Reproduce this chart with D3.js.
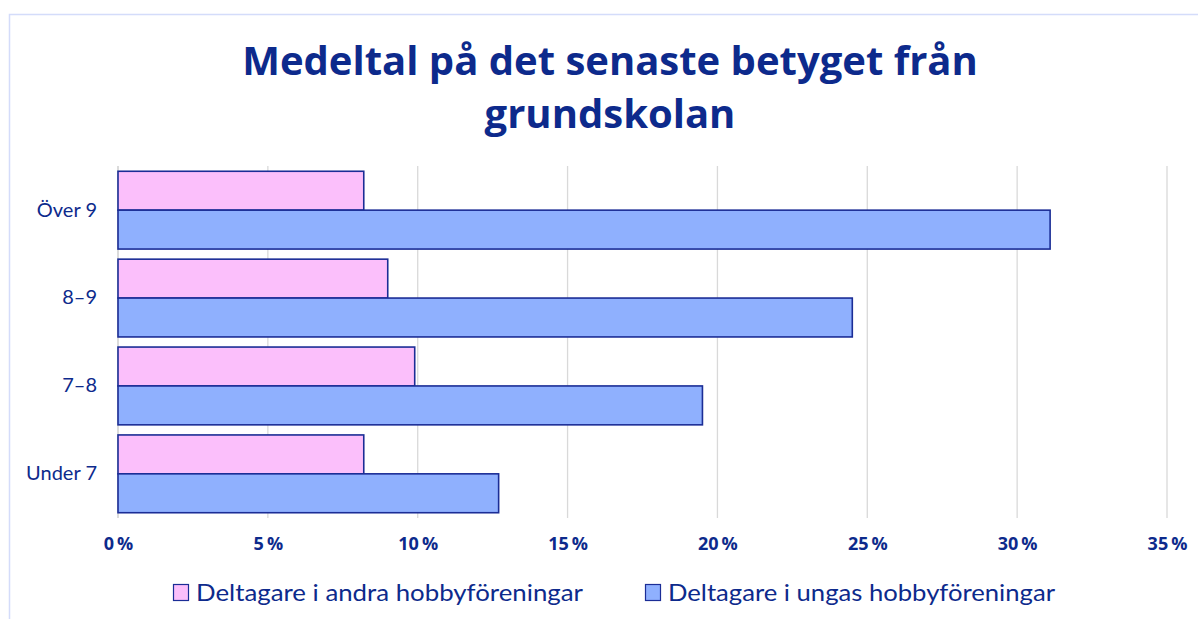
<!DOCTYPE html>
<html>
<head>
<meta charset="utf-8">
<script src="https://cdn.jsdelivr.net/npm/d3@7"></script>
<style>
  body { margin: 0; background: #fff; }
  svg { display: block; }
</style>
</head>
<body>
<svg id="drawing_region"></svg>
<script>
const categories = ['Över 9', '8–9', '7–8', 'Under 7'];
const seriesNames = ['Deltagare i andra hobbyföreningar', 'Deltagare i ungas hobbyföreningar'];
const andraValues = [8.2, 9.0, 9.9, 8.2];
const ungasValues = [31.1, 24.5, 19.5, 12.7];
const xTicks = [0, 5, 10, 15, 20, 25, 30, 35];
const titleLines = ['Medeltal på det senaste betyget från', 'grundskolan'];

const colors = ['#fbbffb', '#8fb0fe'];
const strokeColor = '#1b2d96';
const textColor = '#0d2a8c';

const width = 1198, height = 619;
const margin = {top: 166, left: 118};
const plotW = 1049, plotH = 352;

const svg = d3.select('#drawing_region')
    .attr('width', width)
    .attr('height', height);

// chart frame
svg.append('rect')
    .attr('x', 9.5).attr('y', 14.5)
    .attr('width', width).attr('height', height)
    .attr('fill', 'none')
    .attr('stroke', '#d4dcfa')
    .attr('stroke-width', 1.5);

const title = svg.append('text')
    .attr('text-anchor', 'middle')
    .attr('font-family', '"Open Sans", sans-serif')
    .attr('font-weight', 'bold')
    .attr('font-size', '40px')
    .attr('fill', textColor);
title.selectAll('tspan')
    .data(titleLines)
    .join('tspan')
    .attr('x', 610)
    .attr('y', (d, i) => 75 + i * 53)
    .text(d => d);

const chart = svg.append('g')
    .attr('transform', `translate(${margin.left}, ${margin.top})`);

const xscale = d3.scaleLinear()
    .domain([0, 35])
    .range([0, plotW]);

const yscale = d3.scaleBand()
    .domain(categories)
    .range([0, plotH])
    .paddingInner(0.115)
    .paddingOuter(0.06);

const sub = d3.scaleBand()
    .domain([0, 1])
    .range([0, yscale.bandwidth()]);

// gridlines
chart.append('g')
    .selectAll('line')
    .data(xTicks)
    .join('line')
    .attr('x1', d => xscale(d)).attr('x2', d => xscale(d))
    .attr('y1', 0).attr('y2', plotH)
    .attr('stroke', d => d === 0 ? '#c8c8c8' : '#d9d9d9')
    .attr('stroke-width', 1.3);

const xaxis = d3.axisBottom(xscale)
    .tickValues(xTicks)
    .tickFormat(d => d + '\u2009%')
    .tickSize(0)
    .tickPadding(19);

chart.append('g')
    .attr('transform', `translate(0, ${plotH})`)
    .call(xaxis)
    .call(g => g.select('.domain').remove())
    .selectAll('text')
    .attr('font-family', '"Open Sans", sans-serif')
    .attr('font-weight', 'bold')
    .attr('font-size', '18px')
    .attr('fill', textColor);

const yaxis = d3.axisLeft(yscale)
    .tickSize(0)
    .tickPadding(21);

chart.append('g')
    .call(yaxis)
    .call(g => g.select('.domain').remove())
    .selectAll('text')
    .attr('font-family', 'Lato, sans-serif')
    .attr('font-size', '20px')
    .attr('fill', textColor);

const groups = chart.selectAll('.grp')
    .data(categories)
    .join('g')
    .attr('class', 'grp')
    .attr('transform', d => `translate(0, ${yscale(d)})`);

groups.selectAll('rect')
    .data((d, i) => [andraValues[i], ungasValues[i]])
    .join('rect')
    .attr('x', 0)
    .attr('y', (d, j) => sub(j))
    .attr('width', d => xscale(d))
    .attr('height', sub.bandwidth())
    .attr('fill', (d, j) => colors[j])
    .attr('stroke', strokeColor)
    .attr('stroke-width', 1.6);

// legend
const legendX = [173, 645];
const legend = svg.append('g');
seriesNames.forEach((name, i) => {
    const g = legend.append('g')
        .attr('transform', `translate(${legendX[i]}, 584)`);
    g.append('rect')
        .attr('x', 0.5).attr('y', 0.5)
        .attr('width', 15).attr('height', 16)
        .attr('fill', colors[i])
        .attr('stroke', strokeColor)
        .attr('stroke-width', 1.2);
    g.append('text')
        .attr('x', 23)
        .attr('y', 17)
        .attr('font-family', 'Lato, sans-serif')
        .attr('font-size', '24px')
        .attr('textLength', 387)
        .attr('lengthAdjust', 'spacingAndGlyphs')
        .attr('fill', textColor)
        .text(name);
});
</script>
</body>
</html>
